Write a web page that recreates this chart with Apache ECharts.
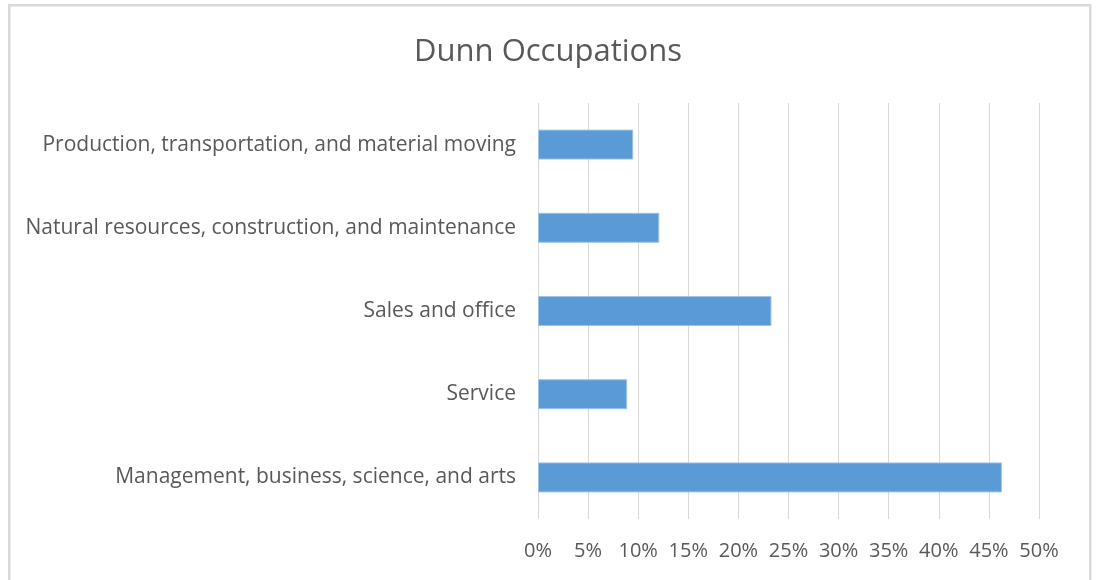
<!DOCTYPE html>
<html>
<head>
<meta charset="utf-8">
<script src="https://cdn.jsdelivr.net/npm/echarts@6/dist/echarts.min.js"></script>
<style>
html,body{margin:0;padding:0;background:#fff;}
#chart{width:1096px;height:580px;}
</style>
</head>
<body>
<div id="chart"></div>
<script>
const titleText = 'Dunn Occupations';
const categories = [
  'Management, business, science, and arts',
  'Service',
  'Sales and office',
  'Natural resources, construction, and maintenance',
  'Production, transportation, and material moving'
];
const values = [46.3, 8.9, 23.3, 12.1, 9.5];
const tickMin = 0, tickMax = 50, tickStep = 5;

const chart = echarts.init(document.getElementById('chart'), null, {renderer: 'canvas'});
const font = '"Open Sans", "Noto Sans", sans-serif';
chart.setOption({
  animation: false,
  backgroundColor: '#fff',
  graphic: [{
    type: 'rect', left: 8, top: 4, z: -1,
    shape: {x: 0, y: 0, width: 1081, height: 620},
    style: {fill: '#fff', stroke: '#d9d9d9', lineWidth: 2.5}
  }],
  title: {
    text: titleText, left: 'center', top: 32,
    textStyle: {fontFamily: font, fontSize: 31, fontWeight: 'normal', color: '#595959'}
  },
  grid: {left: 538, right: 57, top: 103, bottom: 61, containLabel: false},
  xAxis: {
    type: 'value', min: tickMin, max: tickMax, interval: tickStep,
    axisLine: {show: false}, axisTick: {show: false},
    splitLine: {show: true, lineStyle: {color: '#d9d9d9', width: 1}},
    axisLabel: {formatter: v => v + '%', margin: 22, fontFamily: font, fontSize: 20, color: '#595959'}
  },
  yAxis: {
    type: 'category', data: categories,
    axisLine: {show: false}, axisTick: {show: false},
    axisLabel: {margin: 22, fontFamily: font, fontSize: 21, color: '#595959', padding: [3, 0, 0, 0]}
  },
  series: [{
    type: 'bar', data: values, barWidth: '36%',
    itemStyle: {color: '#5b9bd5', borderColor: '#9dc3e6', borderWidth: 1}
  }]
});
</script>
</body>
</html>
